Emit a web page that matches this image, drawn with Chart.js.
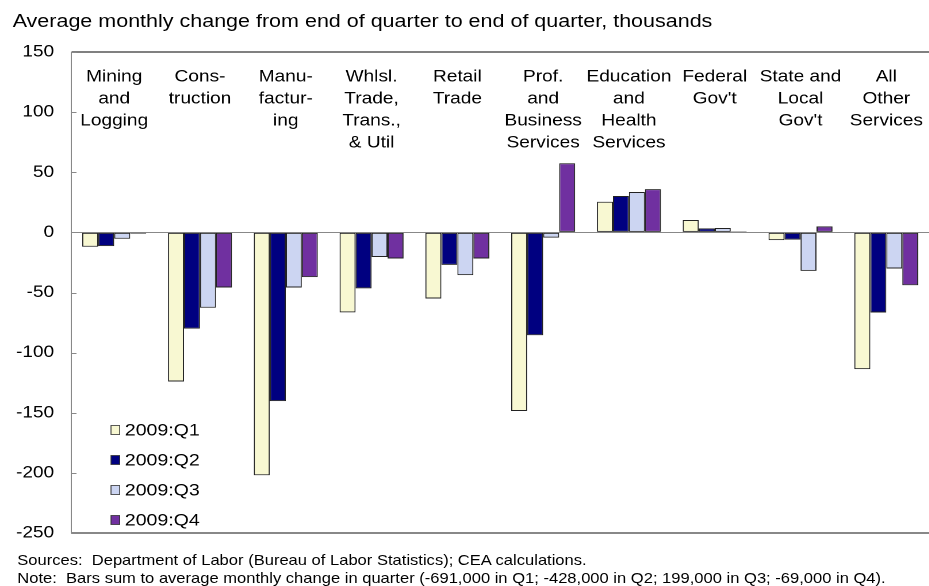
<!DOCTYPE html>
<html>
<head>
<meta charset="utf-8">
<script src="https://cdn.jsdelivr.net/npm/chart.js@4.4.1/dist/chart.umd.min.js"></script>
<style>
  html, body { margin: 0; padding: 0; background: #fff; overflow: hidden; }
  #wrap {
    position: absolute; left: 0; top: 0; width: 808px; height: 586px;
    transform-origin: 0 0; transform: scaleX(1.15);
    font-family: "Liberation Sans", Arial, sans-serif; color: #000;
  }
  #title { position: absolute; left: 11px; top: 10px; font-size: 18.7px; white-space: nowrap; }
  #notes { position: absolute; left: 15px; top: 551px; font-size: 14.4px; line-height: 18px; white-space: nowrap; }
  canvas { position: absolute; left: 0; top: 0; }
</style>
</head>
<body>
<div id="wrap">
  <div id="title">Average monthly change from end of quarter to end of quarter, thousands</div>
  <canvas id="chart" width="808" height="586"></canvas>
  <div id="notes">
    Sources:&nbsp; Department of Labor (Bureau of Labor Statistics); CEA calculations.<br>
    Note:&nbsp; Bars sum to average monthly change in quarter (-691,000 in Q1; -428,000 in Q2; 199,000 in Q3; -69,000 in Q4).
  </div>
</div>
<script>
// data
const categories = [
  ['Mining', 'and', 'Logging'],
  ['Cons-', 'truction'],
  ['Manu-', 'factur-', 'ing'],
  ['Whlsl.', 'Trade,', 'Trans.,', '& Util'],
  ['Retail', 'Trade'],
  ['Prof.', 'and', 'Business', 'Services'],
  ['Education', 'and', 'Health', 'Services'],
  ['Federal', "Gov't"],
  ['State and', 'Local', "Gov't"],
  ['All', 'Other', 'Services'],
]
const seriesNames = ['2009:Q1', '2009:Q2', '2009:Q3', '2009:Q4']
const q1 = [-12, -124, -202, -66.5, -55, -148.5, 25.5, 10.3, -6.4, -113.7]
const q2 = [-11.4, -80, -140.3, -46.6, -27, -85.5, 30.3, 3.3, -6, -66.6]
const q3 = [-5.3, -62.7, -45.8, -20.5, -35.5, -4.4, 33.6, 3.6, -32, -30]
const q4 = [-1, -45.8, -37.2, -21.7, -21.7, 57.5, 36, 0.8, 5, -44]
const yTicks = [150, 100, 50, 0, -50, -100, -150, -200, -250]

const colors = ['#F8F8D2', '#000080', '#CCD5F2', '#7030A0']
const font = '"Liberation Sans", Arial, sans-serif'

// plugins
const categoryLabels = {
  id: 'categoryLabels',
  afterDatasetsDraw(chart) {
    const { ctx, chartArea } = chart
    const x = chart.scales.x
    ctx.save()
    ctx.font = `16.6px ${font}`
    ctx.fillStyle = '#000'
    ctx.textAlign = 'center'
    ctx.textBaseline = 'middle'
    chart.data.labels.forEach((lines, i) => {
      const px = x.getPixelForValue(i)
      lines.forEach((line, j) => ctx.fillText(line, px, chartArea.top + 25 + j * 22))
    })
    ctx.restore()
  }
}

const innerTicks = {
  id: 'innerTicks',
  afterDraw(chart) {
    const { ctx, chartArea } = chart
    const y = chart.scales.y
    ctx.save()
    ctx.strokeStyle = '#888'
    ctx.lineWidth = 1
    y.ticks.forEach(t => {
      const py = Math.round(y.getPixelForValue(t.value)) + 0.5
      ctx.beginPath()
      ctx.moveTo(chartArea.left, py)
      ctx.lineTo(chartArea.left + 4.5, py)
      ctx.stroke()
    })
    ctx.restore()
  }
}

const insideLegend = {
  id: 'insideLegend',
  afterDraw(chart) {
    const { ctx } = chart
    ctx.save()
    ctx.font = `17px ${font}`
    ctx.textBaseline = 'middle'
    chart.data.datasets.forEach((ds, i) => {
      const cy = 430 + i * 30
      ctx.fillStyle = ds.backgroundColor
      ctx.fillRect(96.5, cy - 4.5, 7.6, 9)
      ctx.strokeStyle = '#333'
      ctx.lineWidth = 0.8
      ctx.strokeRect(96.5, cy - 4.5, 7.6, 9)
      ctx.fillStyle = '#000'
      ctx.fillText(ds.label, 108.5, cy + 1)
    })
    ctx.restore()
  }
}

const lineFor = v => v === 150 ? '#000' : (v === 0 || v === -250) ? '#888' : 'rgba(0,0,0,0)'

new Chart(document.getElementById('chart'), {
  type: 'bar',
  data: {
    labels: categories,
    datasets: [q1, q2, q3, q4].map((d, i) => ({
      label: seriesNames[i],
      data: d,
      backgroundColor: colors[i],
      borderColor: '#222',
      borderWidth: 1,
      borderSkipped: false,
      categoryPercentage: 0.746,
      barPercentage: 1,
    })),
  },
  options: {
    responsive: false,
    animation: false,
    devicePixelRatio: 2,
    layout: { padding: { left: 0, top: 52, right: 0, bottom: 53 } },
    plugins: { legend: { display: false }, tooltip: { enabled: false } },
    scales: {
      x: { display: false },
      y: {
        min: -250,
        max: 150,
        afterBuildTicks: scale => { scale.ticks = yTicks.map(v => ({ value: v })) },
        afterFit: scale => { scale.width = 62 },
        ticks: { color: '#000', font: { family: font, size: 16.5 }, padding: 15 },
        grid: {
          drawTicks: false,
          color: c => lineFor(c.tick.value),
          lineWidth: c => c.tick.value === -250 ? 2 : 1,
        },
        border: { color: '#888', width: 1 },
      },
    },
  },
  plugins: [categoryLabels, innerTicks, insideLegend],
})
</script>
</body>
</html>
